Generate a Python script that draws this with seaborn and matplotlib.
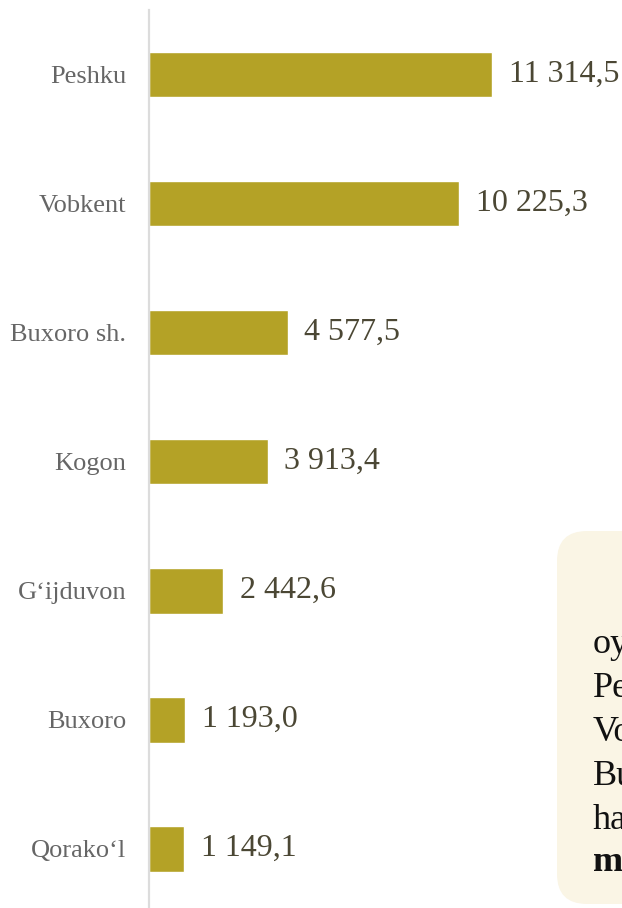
import matplotlib
matplotlib.use("Agg")
import matplotlib.pyplot as plt
from matplotlib.patches import FancyBboxPatch
import seaborn as sns
import pandas as pd

districts = ["Peshku", "Vobkent", "Buxoro sh.", "Kogon", "G\u2018ijduvon", "Buxoro", "Qorako\u2018l"]
values = [11314.5, 10225.3, 4577.5, 3913.4, 2442.6, 1193.0, 1149.1]
note_lines = ["oyida", "Peshku", "Vobkent", "Buxoro", "hamda", "mln"]

df = pd.DataFrame({"district": districts, "value": values})

sns.set_style("white")
plt.rcParams["font.family"] = ["Liberation Serif", "DejaVu Serif"]

fig = plt.figure(figsize=(6.22, 9.08), dpi=100)
ax = fig.add_axes([149 / 622, 0, 473 / 622, 898 / 908])

sns.barplot(data=df, x="value", y="district", orient="h", color="#B4A226",
            saturation=1, width=0.355, ax=ax)

labels = [f"{v:,.1f}".replace(",", " ").replace(".", ",") for v in values]
ax.bar_label(ax.containers[0], labels=labels, padding=12, fontsize=23, color="#4B4734")

ax.set_xlim(0, 15600)
ax.set_ylim(6.46, -0.5)
ax.set_xlabel("")
ax.set_ylabel("")
ax.set_xticks([])
ax.tick_params(axis="y", length=0, pad=16.5, labelsize=19, labelcolor="#666666")
for s in ["top", "right", "bottom"]:
    ax.spines[s].set_visible(False)
ax.spines["left"].set_color("#dcdcdc")
ax.spines["left"].set_linewidth(1.6)

# note box at the bottom right (cut off by the figure edge)
ov = fig.add_axes([0, 0, 1, 1], facecolor="none")
ov.set_xlim(0, 622)
ov.set_ylim(908, 0)
ov.axis("off")
ov.add_patch(FancyBboxPatch((557, 531), 140, 373, boxstyle="round,pad=0,rounding_size=30",
                            facecolor="#FAF5E5", edgecolor="none"))
ys = [653, 697, 741, 785, 829, 871]
for i, (t, y) in enumerate(zip(note_lines, ys)):
    ov.text(593, y, t, va="baseline", ha="left", fontsize=26, color="#111111",
            fontweight="bold" if i == len(note_lines) - 1 else "normal")

fig.savefig("out.png", dpi=100)
